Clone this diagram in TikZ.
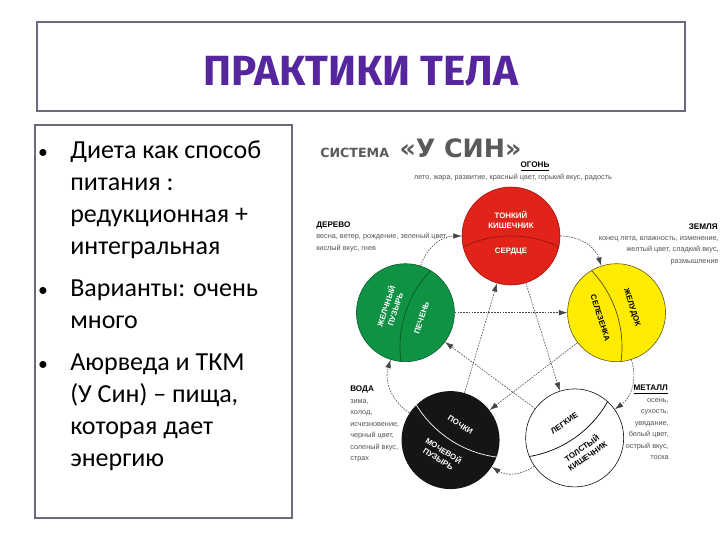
\documentclass[tikz,border=0pt]{standalone}
\usepackage{fontspec}
\setmainfont{Carlito}
\newfontfamily\headfont{Fira Sans}
\newfontfamily\diafont{Liberation Sans}
\newfontfamily\signfont{DejaVu Sans}
\usetikzlibrary{arrows.meta,positioning}
\definecolor{framegray}{RGB}{110,104,126}
\definecolor{titlepurple}{RGB}{86,38,158}
\definecolor{headgray}{RGB}{90,90,90}
\definecolor{firered}{RGB}{226,35,26}
\definecolor{firedark}{RGB}{150,20,15}
\definecolor{woodgreen}{RGB}{16,146,68}
\definecolor{wooddark}{RGB}{8,90,40}
\definecolor{earthyellow}{RGB}{255,236,0}
\definecolor{earthdark}{RGB}{90,80,20}
\definecolor{waterblack}{RGB}{22,20,20}
\definecolor{notegray}{RGB}{85,85,85}
\definecolor{linegray}{RGB}{70,70,70}

\begin{document}
\begin{tikzpicture}[x=0.25mm, y=0.25mm,
  boxframe/.style={draw=framegray, line width=1.2pt, inner sep=0pt},
  bullettext/.style={anchor=base west, align=left, inner sep=0pt, font=\fontsize{18.5}{22.8}\selectfont},
  bulletdot/.style={anchor=base, inner sep=0pt, font=\fontsize{14}{16}\selectfont},
  organ/.style={circle, minimum size=2.45cm, inner sep=0pt, line width=0.4pt},
  organtxt/.style={align=center, inner sep=0pt, font=\diafont\bfseries\fontsize{5.6}{6.9}\selectfont},
  elname/.style={inner sep=0pt, font=\diafont\bfseries\fontsize{5.8}{7}\selectfont},
  elnote/.style={inner sep=0pt, text=notegray, font=\diafont\fontsize{5.2}{8.2}\selectfont},
  gen/.style={-{Latex[length=6pt,width=4pt]}, linegray, line width=0.4pt, dash pattern=on 1.2pt off 0.8pt},
  ctrl/.style={gen}
]
\useasboundingbox (0,0) rectangle (720,540);
\fill[white] (0,0) rectangle (720,540);

\node[boxframe, minimum width=16.2cm, minimum height=2.225cm] (titlebox) at (361,473.5) {};
\node[font=\headfont\bfseries\fontsize{30}{32}\selectfont, text=titlepurple] (title) at (361,469) {ПРАКТИКИ ТЕЛА};

\node[boxframe, minimum width=6.425cm, minimum height=9.825cm] (textbox) at (163.5,218.5) {};
\node[bulletdot] (dot1) at (43,381) {•};
\node[bullettext] (item1) at (70,285) {Диета как способ\\питания :\\редукционная +\\интегральная};
\node[bulletdot] (dot2) at (43,243) {•};
\node[bullettext] (item2) at (70,211) {Варианты: очень\\много};
\node[bulletdot] (dot3) at (43,169) {•};
\node[bullettext] (item3) at (70,73) {Аюрведа и ТКМ\\(У Син) – пища,\\которая дает\\энергию};

\node[anchor=base west, inner sep=0pt, text=headgray, font=\signfont\bfseries\fontsize{9}{10}\selectfont] (sistema) at (320,382) {СИСТЕМА};
\node[base right=7pt of sistema, inner sep=0pt, text=headgray, font=\signfont\bfseries\fontsize{18}{20}\selectfont] (syn) {«У СИН»};

\begin{scope}[shift={(511,193)}]
\coordinate (hub) at (0,0);
\node[organ, fill=firered, draw=firedark] (fire) at (90:111) {};
\node[organ, fill=woodgreen, draw=wooddark] (wood) at (162:111) {};
\node[organ, fill=earthyellow, draw=earthdark] (earth) at (18:111) {};
\node[organ, fill=white, draw=black] (metal) at (-55:111) {};
\node[organ, fill=waterblack] (water) at (-123:111) {};
\foreach \el/\col in {fire/firedark, wood/wooddark, earth/earthdark, metal/black, water/white}{
  \begin{scope}
    \clip (\el.center) circle (49);
    \draw[\col, line width=0.5pt] (hub) circle (111);
  \end{scope}
}
\node[organtxt, text=white] (fireyang) at (90:127) {ТОНКИЙ\\КИШЕЧНИК};
\node[organtxt, text=white] (fireyin) at (90:95) {СЕРДЦЕ};
\node[organtxt, text=white, rotate=72] (woodyang) at (162:127) {ЖЕЛЧНЫЙ\\ПУЗЫРЬ};
\node[organtxt, text=white, rotate=72] (woodyin) at (162:94) {ПЕЧЕНЬ};
\node[organtxt, rotate=-72] (earthyang) at (18:127) {ЖЕЛУДОК};
\node[organtxt, rotate=-72] (earthyin) at (18:94) {СЕЛЕЗЕНКА};
\node[organtxt, rotate=35] (metalyang) at (-55:128) {ТОЛСТЫЙ\\КИШЕЧНИК};
\node[organtxt, rotate=35] (metalyin) at (-55:93) {ЛЕГКИЕ};
\node[organtxt, text=white, rotate=-33] (wateryang) at (-123:128) {МОЧЕВОЙ\\ПУЗЫРЬ};
\node[organtxt, text=white, rotate=-33] (wateryin) at (-123:93) {ПОЧКИ};
\end{scope}

\draw[gen] (wood) to[bend left=36] (fire);
\draw[gen] (fire) to[bend left=36] (earth);
\draw[gen] (earth) to[bend left=36] (metal);
\draw[gen] (metal) to[bend left=34] (water);
\draw[gen] (water) to[bend left=37] (wood);
\draw[ctrl] (fire) -- (metal);
\draw[ctrl] (metal) -- (wood);
\draw[ctrl] (wood) -- (earth);
\draw[ctrl] (earth) -- (water);
\draw[ctrl] (water) -- (fire);

\node[elname, anchor=base] (firename) at (535,372) {\underline{ОГОНЬ}};
\node[elnote, anchor=base] (firenote) at (513,360) {лето, жара, развитие, красный цвет, горький вкус, радость};
\node[elname, anchor=base west] (woodname) at (316,312) {ДЕРЕВО};
\node[elnote, anchor=north west, align=left] (woodnote) at (316,307) {весна, ветер, рождение, зеленый цвет,\\кислый вкус, гнев};
\node[elname, anchor=base east] (earthname) at (718,310) {ЗЕМЛЯ};
\node[elnote, anchor=north east, align=right] (earthnote) at (719,304) {конец лета, влажность, изменение,\\желтый цвет, сладкий вкус,\\размышление};
\node[elname, anchor=base west] (watername) at (350,148) {ВОДА};
\node[elnote, anchor=north west, align=left] (waternote) at (350,141) {зима,\\холод,\\исчезновение,\\черный цвет,\\соленый вкус,\\страх};
\node[elname, anchor=base east] (metalname) at (668,149) {\underline{МЕТАЛЛ}};
\node[elnote, anchor=north east, align=right] (metalnote) at (669,142) {осень,\\сухость,\\увядание,\\белый цвет,\\острый вкус,\\тоска};
\end{tikzpicture}
\end{document}
